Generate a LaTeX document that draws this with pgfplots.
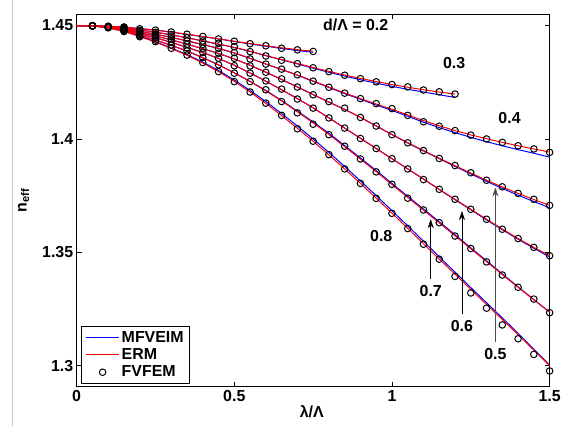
\documentclass[border=0pt]{standalone}
\usepackage{fontspec}
\setmainfont{Liberation Sans}
\usepackage{pgfplots}
\usepackage{pgfplotstable}
\pgfplotsset{compat=1.18}
\usetikzlibrary{arrows.meta}

\pgfplotsset{
  femstyle/.style={only marks, mark=o, mark size=3.3pt, black, mark options={line width=1pt}},
}

% columns: x, FVFEM (circles), ERM (red), MFVEIM (blue)
\pgfplotstableread{
x fem erm mfv
0.00 nan 1.4500 1.4500
0.05 1.4499 1.4499 1.4499
0.10 1.4497 1.4497 1.4497
0.15 1.4494 1.4493 1.4493
0.20 1.4486 1.4487 1.4487
0.25 1.4480 1.4480 1.4480
0.30 1.4472 1.4472 1.4471
0.35 1.4462 1.4462 1.4461
0.40 1.4452 1.4452 1.4451
0.45 1.4441 1.4442 1.4441
0.50 1.4431 1.4431 1.4430
0.55 1.4420 1.4421 1.4419
0.60 1.4411 1.4411 1.4409
0.65 1.4400 1.4402 1.4399
0.70 1.4393 1.4394 1.4390
0.75 1.4386 1.4387 1.4382
}\dA
\pgfplotstableread{
x fem erm mfv
0.00 nan 1.4500 1.4500
0.05 1.4499 1.4499 1.4499
0.10 1.4496 1.4496 1.4496
0.15 1.4491 1.4490 1.4490
0.20 1.4479 1.4481 1.4481
0.25 1.4470 1.4471 1.4471
0.30 1.4461 1.4459 1.4459
0.35 1.4446 1.4446 1.4446
0.40 1.4432 1.4433 1.4432
0.45 1.4422 1.4419 1.4418
0.50 1.4407 1.4404 1.4403
0.55 1.4385 1.4387 1.4386
0.60 1.4366 1.4368 1.4367
0.65 1.4347 1.4350 1.4349
0.70 1.4332 1.4333 1.4331
0.75 1.4314 1.4315 1.4312
0.80 1.4297 1.4298 1.4294
0.85 1.4281 1.4282 1.4277
0.90 1.4266 1.4267 1.4261
0.95 1.4252 1.4253 1.4246
1.00 1.4240 1.4240 1.4232
1.05 1.4230 1.4228 1.4219
1.10 1.4216 1.4217 1.4207
1.15 1.4208 1.4207 1.4195
1.20 1.4198 1.4198 1.4183
}\dB
\pgfplotstableread{
x fem erm mfv
0.00 nan 1.4500 1.4500
0.05 1.4499 1.4499 1.4499
0.10 1.4495 1.4495 1.4495
0.15 1.4488 1.4487 1.4487
0.20 1.4473 1.4475 1.4475
0.25 1.4461 1.4462 1.4462
0.30 1.4451 1.4448 1.4448
0.35 1.4432 1.4433 1.4432
0.40 1.4417 1.4417 1.4416
0.45 1.4400 1.4400 1.4399
0.50 1.4381 1.4380 1.4379
0.55 1.4353 1.4356 1.4355
0.60 1.4330 1.4331 1.4330
0.65 1.4308 1.4307 1.4306
0.70 1.4283 1.4282 1.4281
0.75 1.4255 1.4256 1.4254
0.80 1.4228 1.4229 1.4227
0.85 1.4202 1.4203 1.4200
0.90 1.4178 1.4178 1.4175
0.95 1.4156 1.4154 1.4150
1.00 1.4134 1.4131 1.4126
1.05 1.4104 1.4106 1.4100
1.10 1.4076 1.4081 1.4074
1.15 1.4056 1.4058 1.4050
1.20 1.4037 1.4037 1.4028
1.25 1.4017 1.4018 1.4007
1.30 1.4000 1.4001 1.3988
1.35 1.3985 1.3985 1.3970
1.40 1.3970 1.3970 1.3953
1.45 1.3956 1.3956 1.3937
1.50 1.3941 1.3942 1.3920
}\dC
\pgfplotstableread{
x fem erm mfv
0.00 nan 1.4500 1.4500
0.05 1.4499 1.4499 1.4499
0.10 1.4494 1.4494 1.4494
0.15 1.4485 1.4484 1.4484
0.20 1.4467 1.4469 1.4469
0.25 1.4454 1.4454 1.4454
0.30 1.4441 1.4437 1.4437
0.35 1.4417 1.4418 1.4418
0.40 1.4400 1.4398 1.4398
0.45 1.4378 1.4377 1.4377
0.50 1.4356 1.4353 1.4353
0.55 1.4322 1.4325 1.4325
0.60 1.4294 1.4295 1.4294
0.65 1.4265 1.4263 1.4262
0.70 1.4229 1.4230 1.4229
0.75 1.4195 1.4196 1.4195
0.80 1.4165 1.4163 1.4162
0.85 1.4136 1.4131 1.4130
0.90 1.4095 1.4096 1.4095
0.95 1.4057 1.4058 1.4057
1.00 1.4019 1.4020 1.4019
1.05 1.3983 1.3984 1.3982
1.10 1.3949 1.3949 1.3947
1.15 1.3914 1.3915 1.3913
1.20 1.3883 1.3882 1.3879
1.25 1.3851 1.3850 1.3846
1.30 1.3818 1.3818 1.3813
1.35 1.3789 1.3788 1.3782
1.40 1.3760 1.3760 1.3752
1.45 1.3734 1.3733 1.3724
1.50 1.3707 1.3707 1.3697
}\dD
\pgfplotstableread{
x fem erm mfv
0.00 nan 1.4500 1.4500
0.05 1.4499 1.4499 1.4499
0.10 1.4493 1.4493 1.4493
0.15 1.4482 1.4481 1.4481
0.20 1.4461 1.4464 1.4464
0.25 1.4446 1.4446 1.4446
0.30 1.4429 1.4426 1.4426
0.35 1.4402 1.4404 1.4404
0.40 1.4382 1.4381 1.4381
0.45 1.4356 1.4355 1.4355
0.50 1.4323 1.4325 1.4325
0.55 1.4290 1.4291 1.4291
0.60 1.4256 1.4255 1.4255
0.65 1.4220 1.4217 1.4217
0.70 1.4176 1.4178 1.4178
0.75 1.4136 1.4137 1.4137
0.80 1.4093 1.4093 1.4093
0.85 1.4048 1.4048 1.4048
0.90 1.4002 1.4003 1.4003
0.95 1.3958 1.3958 1.3958
1.00 1.3913 1.3913 1.3913
1.05 1.3868 1.3868 1.3868
1.10 1.3821 1.3823 1.3823
1.15 1.3778 1.3778 1.3777
1.20 1.3734 1.3734 1.3732
1.25 1.3690 1.3690 1.3688
1.30 1.3646 1.3646 1.3643
1.35 1.3602 1.3603 1.3600
1.40 1.3561 1.3561 1.3558
1.45 1.3522 1.3522 1.3518
1.50 1.3485 1.3485 1.3480
}\dE
\pgfplotstableread{
x fem erm mfv
0.00 nan 1.4500 1.4500
0.05 1.4499 1.4499 1.4499
0.10 1.4492 1.4492 1.4492
0.15 1.4478 1.4478 1.4478
0.20 1.4455 1.4458 1.4458
0.25 1.4436 1.4436 1.4436
0.30 1.4414 1.4413 1.4413
0.35 1.4388 1.4387 1.4388
0.40 1.4359 1.4358 1.4359
0.45 1.4327 1.4326 1.4327
0.50 1.4290 1.4291 1.4292
0.55 1.4253 1.4253 1.4254
0.60 1.4217 1.4212 1.4214
0.65 1.4165 1.4168 1.4170
0.70 1.4115 1.4120 1.4123
0.75 1.4065 1.4071 1.4075
0.80 1.4019 1.4020 1.4025
0.85 1.3968 1.3966 1.3971
0.90 1.3912 1.3911 1.3916
0.95 1.3855 1.3856 1.3861
1.00 1.3800 1.3799 1.3804
1.05 1.3739 1.3742 1.3747
1.10 1.3687 1.3686 1.3691
1.15 1.3631 1.3630 1.3635
1.20 1.3572 1.3573 1.3578
1.25 1.3517 1.3516 1.3520
1.30 1.3458 1.3459 1.3463
1.35 1.3400 1.3402 1.3405
1.40 1.3346 1.3346 1.3348
1.45 1.3294 1.3291 1.3292
1.50 1.3234 1.3236 1.3236
}\dF
\pgfplotstableread{
x fem erm mfv
0.00 nan 1.4500 1.4500
0.05 1.4498 1.4498 1.4498
0.10 1.4490 1.4490 1.4490
0.15 1.4474 1.4474 1.4475
0.20 1.4451 1.4452 1.4453
0.25 1.4429 1.4427 1.4429
0.30 1.4400 1.4399 1.4401
0.35 1.4370 1.4369 1.4372
0.40 1.4337 1.4335 1.4339
0.45 1.4297 1.4297 1.4302
0.50 1.4253 1.4254 1.4260
0.55 1.4207 1.4207 1.4214
0.60 1.4158 1.4157 1.4165
0.65 1.4104 1.4103 1.4112
0.70 1.4045 1.4047 1.4057
0.75 1.3990 1.3990 1.4000
0.80 1.3931 1.3930 1.3941
0.85 1.3868 1.3868 1.3879
0.90 1.3804 1.3804 1.3815
0.95 1.3738 1.3739 1.3750
1.00 1.3672 1.3673 1.3684
1.05 1.3605 1.3606 1.3617
1.10 1.3536 1.3538 1.3549
1.15 1.3470 1.3470 1.3480
1.20 1.3394 1.3404 1.3413
1.25 1.3321 1.3337 1.3345
1.30 1.3254 1.3270 1.3278
1.35 1.3180 1.3204 1.3211
1.40 1.3119 1.3137 1.3143
1.45 1.3050 1.3069 1.3073
1.50 1.2977 1.3000 1.3003
}\dG

\begin{document}
\begin{tikzpicture}[font=\fontsize{16}{19}\selectfont\bfseries]
\begin{axis}[
  width=475pt, height=374pt, scale only axis,
  xmin=0, xmax=1.5, ymin=1.2908, ymax=1.455,
  xtick={0,0.5,1,1.5}, xticklabels={0,0.5,1,1.5},
  ytick={1.3,1.35,1.4,1.45}, yticklabels={1.3,1.35,1.4,1.45},
  tick align=inside, tick pos=both, major tick length=5pt,
  tick style={black, line width=0.6pt},
  axis line style={black, line width=0.8pt},
  ticklabel style={font=\fontsize{16}{19}\selectfont\bfseries},
  xlabel={λ/Λ}, ylabel={n\textsubscript{eff}},
  xlabel style={at={(axis description cs:0.497,0)}, anchor=center, yshift=-25pt},
  ylabel style={at={(axis description cs:-0.112,0.5)}, anchor=center},
  legend style={at={(0.01,0.008)}, anchor=south west, draw=black,
    inner xsep=4pt, inner ysep=3pt, row sep=1pt,
    font=\fontsize{16}{19}\selectfont\bfseries},
  legend cell align=left,
]
\coordinate (SW) at (rel axis cs:0,0);
% MFVEIM
\addplot[blue, line width=1pt, forget plot] table[x=x,y=mfv]{\dA};
\addplot[blue, line width=1pt, forget plot] table[x=x,y=mfv]{\dB};
\addplot[blue, line width=1pt, forget plot] table[x=x,y=mfv]{\dC};
\addplot[blue, line width=1pt, forget plot] table[x=x,y=mfv]{\dD};
\addplot[blue, line width=1pt, forget plot] table[x=x,y=mfv]{\dE};
\addplot[blue, line width=1pt, forget plot] table[x=x,y=mfv]{\dF};
\addplot[blue, line width=1pt, forget plot] table[x=x,y=mfv]{\dG};
% ERM
\addplot[red, line width=1pt, forget plot] table[x=x,y=erm]{\dA};
\addplot[red, line width=1pt, forget plot] table[x=x,y=erm]{\dB};
\addplot[red, line width=1pt, forget plot] table[x=x,y=erm]{\dC};
\addplot[red, line width=1pt, forget plot] table[x=x,y=erm]{\dD};
\addplot[red, line width=1pt, forget plot] table[x=x,y=erm]{\dE};
\addplot[red, line width=1pt, forget plot] table[x=x,y=erm]{\dF};
\addplot[red, line width=1pt, forget plot] table[x=x,y=erm]{\dG};
% FVFEM
\addplot[femstyle, forget plot] table[x=x,y=fem]{\dA};
\addplot[femstyle, forget plot] table[x=x,y=fem]{\dB};
\addplot[femstyle, forget plot] table[x=x,y=fem]{\dC};
\addplot[femstyle, forget plot] table[x=x,y=fem]{\dD};
\addplot[femstyle, forget plot] table[x=x,y=fem]{\dE};
\addplot[femstyle, forget plot] table[x=x,y=fem]{\dF};
\addplot[femstyle, forget plot] table[x=x,y=fem]{\dG};

\addlegendimage{blue, line width=1.2pt, legend image post style={xscale=1.94}}
\addlegendentry{MFVEIM}
\addlegendimage{red, line width=1.2pt, legend image post style={xscale=1.94}}
\addlegendentry{ERM}
\addlegendimage{femstyle, legend image post style={xshift=8pt}}
\addlegendentry{FVFEM}

% labels
\node at (axis cs:0.885,1.4502) {d/Λ = 0.2};
\node at (axis cs:1.197,1.4335) {0.3};
\node at (axis cs:1.373,1.4094) {0.4};
\node at (axis cs:0.966,1.3573) {0.8};
\node at (axis cs:1.123,1.3331) {0.7};
\node at (axis cs:1.222,1.3176) {0.6};
\node at (axis cs:1.328,1.3053) {0.5};
\draw[-{Stealth[length=9pt,width=6pt]}, line width=0.6pt] (axis cs:1.123,1.3382) -- (axis cs:1.123,1.3646);
\draw[-{Stealth[length=9pt,width=6pt]}, line width=0.6pt] (axis cs:1.222,1.3229) -- (axis cs:1.222,1.3682);
\draw[-{Stealth[length=9pt,width=6pt]}, line width=0.6pt, black!70] (axis cs:1.328,1.3106) -- (axis cs:1.328,1.3786);
\end{axis}
\draw[gray!45, line width=0.6pt] (SW) ++(-65pt,-40pt) -- ++(0pt,428pt);
\path (SW) ++(-77pt,-40pt) rectangle ++(564pt,428pt);
\end{tikzpicture}
\end{document}
